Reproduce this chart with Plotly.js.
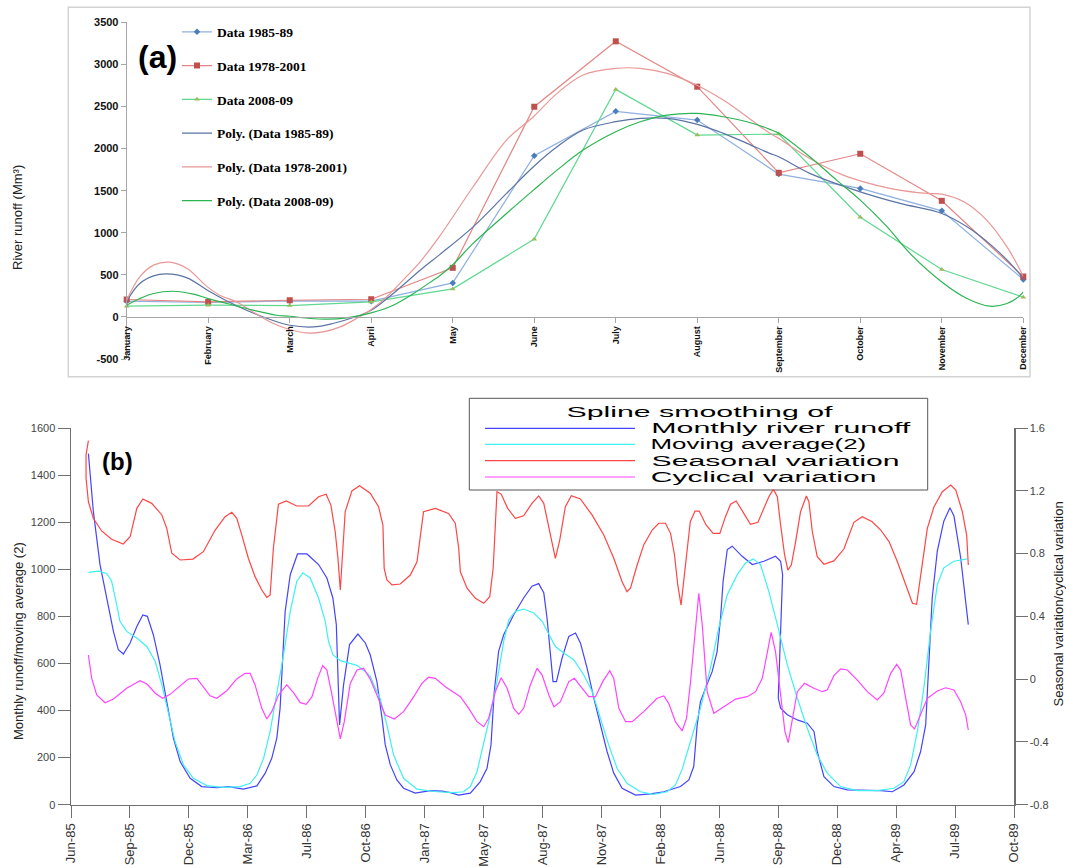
<!DOCTYPE html>
<html><head><meta charset="utf-8">
<script src="https://cdn.plot.ly/plotly-3.0.1.min.js"></script>
<style>html,body{margin:0;padding:0;background:#fff;}#chart{width:1066px;height:868px;}</style>
</head><body><div id="chart"></div>
<script>
// ---------- Panel (a) ----------
const months = ['January','February','March','April','May','June','July','August','September','October','November','December'];
const monthPos = [0,1,2,3,4,5,6,7,8,9,10,11];
const data8589 = [187,171,190,187,404,1914,2442,2339,1697,1527,1260,444];
const data7801 = [207,178,198,210,583,2497,3274,2735,1712,1938,1379,480];
const data0809 = [127,139,135,178,333,924,2703,2160,2172,1185,563,234];
// polynomial trend curves (x in month index)
const poly8589x = [0,0.16,0.33,0.49,0.74,0.99,1.23,1.47,1.76,2.0,2.29,2.53,2.78,3.0,3.27,3.6,3.84,4.25,4.66,4.99,5.28,5.6,6.0,6.3,6.63,6.99,7.32,7.61,7.89,8.0,8.38,9.0,9.49,10.0,10.31,10.63,10.88,11.0];
const poly8589y = [187,397,488,511,464,317,190,80,-31,-99,-119,-78,-7,80,278,555,740,1070,1467,1784,2021,2220,2319,2359,2359,2291,2181,2062,1943,1902,1705,1486,1348,1229,1070,832,595,456];
const poly7801x = [0,0.16,0.33,0.53,0.74,0.99,1.14,1.35,1.55,1.8,2.0,2.2,2.41,2.62,2.82,3.0,3.19,3.39,3.6,3.84,4.25,4.66,4.99,5.28,5.6,6.0,6.3,6.63,6.99,7.32,7.61,7.89,8.0,8.38,8.79,9.0,9.41,9.82,10.0,10.27,10.55,10.8,10.94,11.0];
const poly7801y = [199,476,615,650,575,357,258,178,59,-78,-150,-190,-178,-119,-19,88,238,436,654,960,1546,2101,2378,2656,2874,2953,2953,2894,2755,2577,2378,2181,2121,1883,1685,1617,1518,1467,1459,1367,1150,832,595,476];
const poly0809x = [0,0.16,0.33,0.57,0.82,1.0,1.23,1.55,1.84,2.0,2.25,2.45,2.7,3.0,3.27,3.52,3.76,3.84,4.0,4.25,4.66,4.99,5.28,5.6,6.0,6.3,6.63,6.99,7.32,7.61,7.89,8.0,8.38,8.71,9.0,9.33,9.61,10.0,10.31,10.59,10.8,10.94,11.0];
const poly0809y = [139,218,278,305,270,218,159,80,20,8,-19,-27,-12,48,139,278,436,490,620,873,1229,1506,1744,1982,2200,2319,2398,2418,2378,2319,2228,2181,1902,1625,1388,1070,754,416,219,127,159,238,297];
const yTicksA = [-500,0,500,1000,1500,2000,2500,3000,3500];
const yTickTextA = ['-500','0','500','1000','1500','2000','2500','3000','3500'];

// ---------- Panel (b) ---------- (x = months after Jun-85)
const dateTickVals = [0,3.25,6.5,9.75,13,16.25,19.5,22.75,26,29.25,32.5,35.75,39,42.25,45.5,48.75,52];
const dateTickText = ['Jun-85','Sep-85','Dec-85','Mar-86','Jul-86','Oct-86','Jan-87','May-87','Aug-87','Nov-87','Feb-88','Jun-88','Sep-88','Dec-88','Apr-89','Jul-89','Oct-89'];
const runoffX = [0.96,1.23,1.6,1.99,2.34,2.61,2.89,3.26,3.63,3.96,4.21,4.54,4.91,5.28,5.65,6.02,6.57,7.21,8.04,8.68,9.51,10.25,10.71,11.07,11.35,11.53,11.68,11.81,12.09,12.49,13.01,13.65,14.11,14.44,14.63,14.72,14.81,15.03,15.36,15.82,16.23,16.5,16.87,17.15,17.33,17.61,17.97,18.34,18.98,19.81,20.46,20.92,21.38,22.02,22.57,22.94,23.16,23.34,23.58,23.86,24.41,24.96,25.42,25.79,26.07,26.25,26.43,26.58,26.77,27.08,27.45,27.82,28.09,28.46,28.83,29.19,29.56,29.93,30.39,31.13,31.95,32.69,33.61,34.07,34.34,34.53,34.71,34.99,35.36,35.63,35.82,35.96,36.19,36.46,37.01,37.57,38.21,38.85,39.13,39.24,39.12,39.0,39.13,39.5,40.05,40.6,40.97,41.15,41.52,42.07,42.81,43.73,44.65,45.29,45.93,46.49,46.85,47.13,47.31,47.49,47.77,48.13,48.47,48.69,49.06,49.48];
const runoffY = [1491,1247,1020,864,736,658,640,687,757,806,800,722,594,438,282,183,112,77,72,77,66,80,134,197,283,410,623,821,977,1065,1065,1020,963,878,765,552,339,509,680,725,687,637,523,368,254,169,105,70,49,60,58,51,41,49,98,155,254,481,651,722,807,878,928,939,900,793,651,523,523,623,715,729,687,580,453,339,226,134,70,41,46,55,77,105,162,339,438,495,566,651,793,949,1084,1098,1055,1020,1034,1055,1034,977,700,453,410,382,360,346,311,226,119,77,63,63,60,55,84,140,226,339,623,878,1077,1204,1261,1226,1049,765];
const movAvgX = [0.96,1.51,1.97,2.24,2.52,2.7,3.07,3.63,4.18,4.64,5.01,5.38,5.74,6.2,6.75,7.49,8.41,9.33,9.88,10.25,10.62,10.98,11.35,11.72,12.09,12.45,12.79,13.19,13.65,14.02,14.2,14.44,14.85,15.77,16.32,16.5,16.78,17.05,17.42,17.79,18.34,19.08,20.18,21.1,21.65,22.02,22.39,22.75,23.12,23.49,23.86,24.14,24.5,24.96,25.52,25.98,26.35,26.71,27.17,27.72,28.27,28.74,29.19,29.65,30.11,30.66,31.4,32.13,32.87,33.33,33.7,34.16,34.71,35.26,35.72,36.19,36.74,37.2,37.62,38.02,38.48,38.95,39.5,40.05,40.6,41.15,41.7,42.44,43.36,44.46,45.38,45.93,46.3,46.67,47.03,47.4,47.77,48.13,48.69,49.43];
const movAvgY = [987,992,982,949,850,779,736,708,672,609,509,382,268,169,112,81,74,77,91,126,197,311,467,637,821,949,985,963,878,779,694,637,612,592,559,545,495,450,339,211,112,66,55,51,55,77,140,254,382,523,694,786,821,831,814,779,722,672,644,616,552,481,368,254,155,91,55,44,55,84,150,270,410,580,751,892,977,1027,1044,1020,906,765,594,453,325,211,134,77,60,60,70,98,169,311,495,736,935,1006,1034,1044];
const seasonalX = [0.96,0.83,0.83,0.96,1.23,1.69,2.24,2.88,3.26,3.63,3.96,4.45,5.01,5.28,5.56,6.02,6.72,7.3,7.95,8.5,8.87,9.14,9.42,9.78,10.15,10.52,10.8,10.98,11.16,11.44,11.87,12.45,13.1,13.65,14.07,14.33,14.57,14.72,14.85,15.0,15.12,15.49,15.91,16.5,16.96,17.2,17.27,17.42,17.7,18.16,18.71,19.08,19.26,19.44,20.09,20.82,21.19,21.38,21.47,21.84,22.3,22.76,23.09,23.28,23.4,23.49,23.72,24.08,24.5,24.96,25.42,25.79,26.07,26.43,26.71,26.95,27.26,27.59,28.09,28.73,29.38,29.93,30.39,30.66,30.85,31.22,31.58,32.05,32.41,32.78,33.06,33.28,33.46,33.64,33.91,34.15,34.41,34.64,35.02,35.41,35.78,36.09,36.37,36.68,37.1,37.47,37.88,38.21,38.48,38.73,38.95,39.13,39.35,39.53,39.72,39.96,40.23,40.55,40.69,40.88,41.15,41.52,42.07,42.62,43.17,43.63,44.18,44.65,45.11,45.57,46.03,46.4,46.63,46.85,47.22,47.59,48.05,48.51,48.79,49.15,49.39,49.48];
const seasonalY = [1.52,1.43,1.28,1.13,1.025,0.944,0.891,0.861,0.907,1.088,1.148,1.12,1.046,0.961,0.802,0.759,0.765,0.812,0.95,1.035,1.063,1.025,0.918,0.77,0.653,0.568,0.521,0.536,0.834,1.114,1.135,1.103,1.103,1.162,1.178,1.109,0.939,0.77,0.568,0.876,1.067,1.199,1.232,1.184,1.099,0.982,0.706,0.632,0.6,0.606,0.663,0.748,0.918,1.067,1.088,1.056,0.993,0.834,0.684,0.579,0.515,0.483,0.525,0.706,0.982,1.194,1.179,1.088,1.025,1.041,1.12,1.167,1.12,0.918,0.77,0.886,1.099,1.169,1.148,1.046,0.918,0.77,0.621,0.557,0.579,0.727,0.855,0.95,0.993,0.993,0.929,0.791,0.6,0.472,0.77,1.003,1.071,1.071,0.982,0.929,0.929,1.035,1.114,1.135,1.056,0.986,0.999,1.088,1.162,1.209,1.162,0.982,0.791,0.695,0.727,0.876,1.067,1.167,1.13,0.939,0.78,0.732,0.753,0.829,0.999,1.035,1.003,0.95,0.876,0.748,0.6,0.483,0.477,0.663,0.961,1.099,1.194,1.237,1.205,1.067,0.918,0.727];
const cyclicalX = [0.96,1.14,1.42,1.88,2.34,3.07,3.81,4.21,4.64,5.06,5.46,6.02,6.47,6.94,7.3,7.67,8.04,8.59,9.14,9.6,9.88,10.15,10.52,10.8,11.07,11.44,11.9,12.27,12.64,12.97,13.29,13.6,13.88,14.11,14.39,14.67,14.85,15.07,15.4,15.77,16.13,16.5,16.87,17.33,17.83,18.34,18.9,19.35,19.72,20.09,20.64,21.47,21.93,22.39,22.76,23.03,23.4,23.72,24.05,24.41,24.69,24.96,25.33,25.7,25.98,26.35,26.63,26.99,27.45,27.76,28.18,28.55,28.92,29.32,29.71,29.93,30.21,30.58,30.95,31.58,32.32,32.69,32.96,33.33,33.7,33.94,34.16,34.44,34.62,34.81,35.08,35.45,36.0,36.65,37.29,37.75,38.12,38.43,38.61,38.85,39.13,39.37,39.55,39.77,40.05,40.45,40.97,41.43,41.7,42.07,42.44,42.81,43.36,43.91,44.46,44.82,45.2,45.53,45.75,46.03,46.3,46.52,46.76,47.22,47.77,48.23,48.69,49.06,49.34,49.48];
const cyclicalY = [0.154,0.005,-0.101,-0.15,-0.127,-0.058,-0.01,-0.033,-0.09,-0.122,-0.097,-0.042,0.001,0.005,-0.048,-0.106,-0.122,-0.074,0.001,0.037,0.037,-0.037,-0.186,-0.254,-0.207,-0.101,-0.037,-0.086,-0.15,-0.16,-0.112,0.005,0.086,0.058,-0.101,-0.281,-0.381,-0.271,-0.027,0.058,0.069,0.0,-0.101,-0.229,-0.254,-0.207,-0.112,-0.027,0.012,0.005,-0.048,-0.112,-0.186,-0.271,-0.303,-0.25,-0.08,0.009,-0.058,-0.186,-0.224,-0.186,-0.037,0.069,0.026,-0.101,-0.176,-0.144,-0.016,0.005,-0.058,-0.112,-0.112,-0.016,0.054,0.005,-0.186,-0.271,-0.271,-0.207,-0.122,-0.107,-0.154,-0.271,-0.33,-0.25,-0.02,0.345,0.547,0.345,-0.08,-0.218,-0.176,-0.127,-0.112,-0.08,0.005,0.196,0.298,0.175,-0.122,-0.335,-0.405,-0.25,-0.08,-0.027,-0.058,-0.08,-0.069,0.022,0.065,0.058,-0.006,-0.08,-0.133,-0.09,0.037,0.094,0.058,-0.122,-0.292,-0.318,-0.25,-0.122,-0.076,-0.055,-0.069,-0.144,-0.229,-0.324];
const yTicksL = [0,200,400,600,800,1000,1200,1400,1600];
const yTicksR = [-0.8,-0.4,0,0.4,0.8,1.2,1.6];
const yTickTextR = ['-0.8','-0.4','0','0.4','0.8','1.2','1.6'];
const legendBNames = ['Monthly river runoff','Moving average(2)','Seasonal variation','Cyclical variation'];
const legendBTitle = 'Spline smoothing of';

// ---------- layout helpers (pixel -> paper) ----------
const W = 1066, H = 868;
const px = v => v / W;
const py = v => 1 - v / H;
const SANS = 'Liberation Sans, Arial, sans-serif';

const C_BLUE = '#4444ff', C_CYAN = '#3ff0f0', C_RED = '#ff4545', C_MAG = '#ff45ff';

const traces = [
  {x: monthPos, y: data8589, name: 'Data 1985-89', legendgroup: 'g1', mode: 'lines+markers', xaxis: 'x', yaxis: 'y',
   line: {color: '#8fb0e0', width: 1.2}, marker: {symbol: 'diamond', size: 5, color: '#4a7ebb'}, cliponaxis: false},
  {x: monthPos, y: data7801, name: 'Data 1978-2001', legendgroup: 'g2', mode: 'lines+markers', xaxis: 'x', yaxis: 'y',
   line: {color: '#e38684', width: 1.2}, marker: {symbol: 'square', size: 6, color: '#c0504d'}, cliponaxis: false},
  {x: monthPos, y: data0809, name: 'Data 2008-09', legendgroup: 'g3', mode: 'lines+markers', xaxis: 'x', yaxis: 'y',
   line: {color: '#5fd890', width: 1.2}, marker: {symbol: 'triangle-up', size: 5, color: '#9bbb59'}, cliponaxis: false},
  {x: poly8589x, y: poly8589y, name: 'Poly. (Data 1985-89)', legendgroup: 'g4', mode: 'lines', xaxis: 'x', yaxis: 'y',
   line: {color: '#5a74a6', width: 1.2, shape: 'spline', smoothing: 1}},
  {x: poly7801x, y: poly7801y, name: 'Poly. (Data 1978-2001)', legendgroup: 'g5', mode: 'lines', xaxis: 'x', yaxis: 'y',
   line: {color: '#e89896', width: 1.2, shape: 'spline', smoothing: 1}},
  {x: poly0809x, y: poly0809y, name: 'Poly. (Data 2008-09)', legendgroup: 'g6', mode: 'lines', xaxis: 'x', yaxis: 'y',
   line: {color: '#2bb552', width: 1.2, shape: 'spline', smoothing: 1}},
  {x: runoffX, y: runoffY, name: legendBNames[0], mode: 'lines', xaxis: 'x2', yaxis: 'y2', showlegend: false,
   line: {color: C_BLUE, width: 1.2}},
  {x: movAvgX, y: movAvgY, name: legendBNames[1], mode: 'lines', xaxis: 'x2', yaxis: 'y2', showlegend: false,
   line: {color: C_CYAN, width: 1.2}},
  {x: seasonalX, y: seasonalY, name: legendBNames[2], mode: 'lines', xaxis: 'x2', yaxis: 'y3', showlegend: false,
   line: {color: C_RED, width: 1.2}},
  {x: cyclicalX, y: cyclicalY, name: legendBNames[3], mode: 'lines', xaxis: 'x2', yaxis: 'y3', showlegend: false,
   line: {color: C_MAG, width: 1.2}}
];

// legend (b) geometry
const legBColors = [C_BLUE, C_CYAN, C_RED, C_MAG];
const legBRowsY = [428.3, 444.3, 460.7, 477];
const legBTextSpan = [[651, 910], [651, 866.7], [651, 899], [651, 876.7]];
const legBTitleSpan = [566, 832];

const annotations = [];
const stretch = {};
stretch[annotations.length] = legBTitleSpan[1] - legBTitleSpan[0];
annotations.push({xref: 'paper', yref: 'paper', x: px((legBTitleSpan[0] + legBTitleSpan[1]) / 2), y: py(411.5),
  xanchor: 'center', yanchor: 'middle', showarrow: false, text: legendBTitle, font: {family: SANS, size: 14, color: '#000'}});
legendBNames.forEach((n, i) => {
  const s = legBTextSpan[i];
  stretch[annotations.length] = s[1] - s[0];
  annotations.push({xref: 'paper', yref: 'paper', x: px((s[0] + s[1]) / 2), y: py(legBRowsY[i]),
    xanchor: 'center', yanchor: 'middle', showarrow: false, text: n, font: {family: SANS, size: 14, color: '#000'}});
});
annotations.push(
  {xref: 'paper', yref: 'paper', x: px(157), y: py(57), xanchor: 'center', yanchor: 'middle', showarrow: false,
   text: '(a)', font: {family: SANS, size: 32, weight: 'bold', color: '#000'}},
  {xref: 'paper', yref: 'paper', x: px(117.5), y: py(461), xanchor: 'center', yanchor: 'middle', showarrow: false,
   text: '(b)', font: {family: SANS, size: 24, weight: 'bold', color: '#000'}},
  {xref: 'paper', yref: 'paper', x: px(18), y: py(218), xanchor: 'center', yanchor: 'middle', showarrow: false, textangle: -90,
   text: 'River runoff (Mm³)', font: {family: SANS, size: 13, color: '#222'}},
  {xref: 'paper', yref: 'paper', x: px(18), y: py(641), xanchor: 'center', yanchor: 'middle', showarrow: false, textangle: -90,
   text: 'Monthly runoff/moving average (2)', font: {family: SANS, size: 13, color: '#222'}},
  {xref: 'paper', yref: 'paper', x: px(1057.5), y: py(604), xanchor: 'center', yanchor: 'middle', showarrow: false, textangle: -90,
   text: 'Seasonal variation/cyclical variation', font: {family: SANS, size: 13, color: '#222'}}
);

const shapes = [
  {type: 'rect', xref: 'paper', yref: 'paper', x0: px(68.3), x1: px(1030), y0: py(376.7), y1: py(7.3),
   line: {color: '#d3d3d3', width: 1.5}, layer: 'below'},
  {type: 'rect', xref: 'paper', yref: 'paper', x0: px(469.3), x1: px(927.7), y0: py(490), y1: py(398.3),
   line: {color: '#555', width: 1}, fillcolor: 'rgba(0,0,0,0)', layer: 'below'}
];
legBRowsY.forEach((yy, i) => {
  shapes.push({type: 'line', xref: 'paper', yref: 'paper', x0: px(485), x1: px(635), y0: py(yy), y1: py(yy),
    line: {color: legBColors[i], width: 1.2}});
});

const axA = {showgrid: false, zeroline: false, showline: true, linecolor: '#a6a6a6', linewidth: 1,
  ticks: 'outside', ticklen: 5, tickcolor: '#a6a6a6', tickwidth: 1};
const axB = {showgrid: false, zeroline: false, showline: true, linecolor: '#707070', linewidth: 1.5,
  ticks: 'outside', ticklen: 12, tickcolor: '#707070', tickwidth: 1};

const layout = {
  width: W, height: H,
  margin: {l: 0, r: 0, t: 0, b: 0},
  paper_bgcolor: '#fff', plot_bgcolor: 'rgba(0,0,0,0)',
  font: {family: SANS},
  showlegend: true,
  legend: {x: px(177), y: py(16.5), xanchor: 'left', yanchor: 'top', bgcolor: 'rgba(0,0,0,0)', borderwidth: 0,
    traceorder: 'grouped', tracegroupgap: 13.2, itemwidth: 30,
    font: {family: 'Liberation Serif, Times New Roman, serif', size: 13.5, weight: 'bold', color: '#000'}},
  xaxis: Object.assign({}, axA, {domain: [px(126.7), px(1023.3)], range: [0, 11], anchor: 'free', position: py(316.7),
    tickmode: 'array', tickvals: monthPos, ticktext: months, tickangle: -90,
    tickfont: {family: SANS, size: 9, weight: 'bold', color: '#111'}}),
  yaxis: Object.assign({}, axA, {domain: [py(359), py(22.3)], range: [-500, 3500], anchor: 'x',
    tickmode: 'array', tickvals: yTicksA, ticktext: yTickTextA,
    tickfont: {family: SANS, size: 11, weight: 'bold', color: '#111'}}),
  xaxis2: Object.assign({}, axB, {domain: [px(71), px(1014)], range: [0, 52], anchor: 'y2',
    tickmode: 'array', tickvals: dateTickVals, ticktext: dateTickText, tickangle: -90,
    tickfont: {family: SANS, size: 13, color: '#333'}}),
  yaxis2: Object.assign({}, axB, {domain: [py(804.7), py(428)], range: [0, 1600], anchor: 'x2',
    tickmode: 'array', tickvals: yTicksL, tickfont: {family: SANS, size: 11, color: '#444'}}),
  yaxis3: Object.assign({}, axB, {range: [-0.8, 1.6], anchor: 'x2', overlaying: 'y2', side: 'right',
    tickmode: 'array', tickvals: yTicksR, ticktext: yTickTextR, tickfont: {family: SANS, size: 11, color: '#444'}}),
  annotations: annotations,
  shapes: shapes
};

Plotly.newPlot('chart', traces, layout, {staticPlot: true, displayModeBar: false, responsive: false}).then(gd => {
  try {
    gd.querySelectorAll('g.annotation').forEach(g => {
      const idx = +g.getAttribute('data-index');
      if (stretch[idx]) {
        const t = g.querySelector('text.annotation-text');
        if (t) { t.setAttribute('textLength', stretch[idx]); t.setAttribute('lengthAdjust', 'spacingAndGlyphs'); }
      }
    });
  } catch (e) {}
});
</script>
</body></html>
